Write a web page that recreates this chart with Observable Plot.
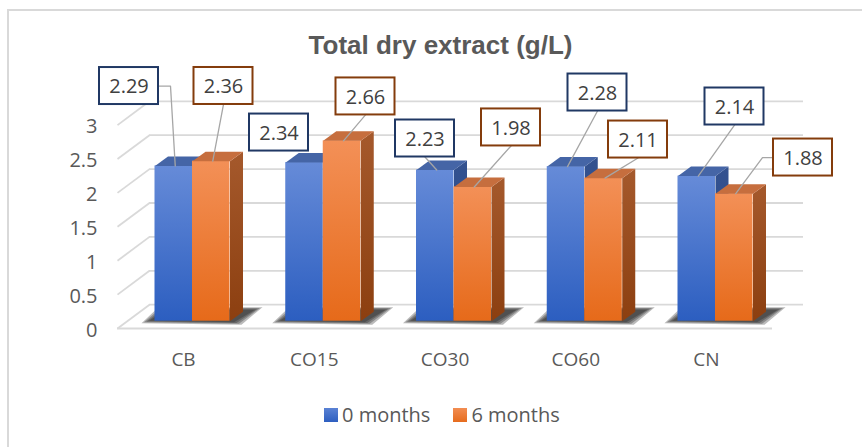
<!DOCTYPE html>
<html><head><meta charset="utf-8">
<script src="https://cdn.jsdelivr.net/npm/d3@7"></script>
<script src="https://cdn.jsdelivr.net/npm/@observablehq/plot@0.6"></script>
<style>
html,body{margin:0;padding:0;background:#fff;}
#wrap{position:relative;width:862px;height:447px;overflow:hidden;font-family:"Open Sans","Noto Sans",sans-serif;}
#chart{position:absolute;left:0;top:0;}
#frame{position:absolute;left:7px;top:9px;width:900px;height:500px;border-left:2px solid #d9d9d9;border-top:2px solid #d9d9d9;pointer-events:none;}
#title{position:absolute;left:0;width:881px;top:30px;text-align:center;font-weight:bold;font-size:26px;font-family:"Liberation Sans",Arial,sans-serif;color:#595959;line-height:30px;}
#legend{position:absolute;left:324px;top:403px;display:flex;align-items:center;font-size:20px;line-height:24px;color:#595959;}
.sw{display:inline-block;width:14px;height:14px;margin-right:4px;}
.item{display:flex;align-items:center;margin-right:23px;}
</style></head>
<body>
<div id="wrap">
  <div id="chart"></div>
  <div id="frame"></div>
  <div id="title">Total dry extract (g/L)</div>
  <div id="legend"></div>
</div>
<script>
// ---- data ----
const categories = ["CB", "CO15", "CO30", "CO60", "CN"];
const seriesNames = ["0 months", "6 months"];
const months0 = [2.29, 2.34, 2.23, 2.28, 2.14];
const months6 = [2.36, 2.66, 1.98, 2.11, 1.88];
const yTicks = [0, 0.5, 1, 1.5, 2, 2.5, 3];

// ---- label placement (pixel offsets of each label box from its bar top) ----
const labelOffset0 = [[-44.75, -79.9], [-25.5, -30], [-10.25, -31.5], [31.5, -74.1], [37.75, -69.6]];
const labelOffset6 = [[12.25, -75.2], [23.5, -44.4], [38.25, -59.5], [34.5, -38.6], [68.75, -36.2]];
const leader0 = ["right", "none", "bottom", "bottom", "bottom"];
const leader6 = ["bottom", "bottom", "bottom", "bottom", "left"];

// ---- layout ----
const X0 = 192, XSTEP = 130.75, Y0 = 320.7, YUNIT = 67.8;
const px = p => p / XSTEP, py = p => p / YUNIT;
const W = px(37.5), DX = px(13), DY = py(9.5);
const XF0 = px(117 - X0), XF1 = px(772 - X0);
const XB0 = XF0 + px(32), XB1 = px(803 - X0);
const BACKY = py(16.5), FRONTY = -py(7.3);
const BW = 29.5, BH = 18.5;
const FONT = '"Open Sans","Noto Sans",sans-serif';

const seriesValues = [months0, months6];
const offsets = [labelOffset0, labelOffset6];
const leaders = [leader0, leader6];

const bars = [];
categories.forEach((c, i) => {
  seriesValues.forEach((arr, s) => {
    const x1 = i + (s === 0 ? -W : 0);
    bars.push({cat: c, i, s, v: arr[i], x1, x2: x1 + W, id: `${s}-${i}`});
  });
});

const topPts = s => bars.filter(b => b.s === s).flatMap(b => [
  {id: b.id, x: b.x1, y: b.v}, {id: b.id, x: b.x2, y: b.v},
  {id: b.id, x: b.x2 + DX, y: b.v + DY}, {id: b.id, x: b.x1 + DX, y: b.v + DY}]);
const sidePts = s => bars.filter(b => b.s === s).flatMap(b => [
  {id: b.id, x: b.x2, y: 0}, {id: b.id, x: b.x2 + DX, y: DY},
  {id: b.id, x: b.x2 + DX, y: b.v + DY}, {id: b.id, x: b.x2, y: b.v}]);
// soft floor shadow: nested layers, each a little larger and translucent
const shadowLayers = [0, 1, 2, 3];
const shadowPts = categories.flatMap((c, i) => shadowLayers.flatMap(k => {
  const g = 2.5 * k, id = `s${i}-${k}`;
  return [
    {id, x: i - W - px(6 + g), y: py(0.5 - g / 3)}, {id, x: i + W + px(4 + g), y: -py(1 + g / 3)},
    {id, x: i + W + DX + px(12 + g), y: DY + py(2 + g / 3)}, {id, x: i - W + DX - px(2 + g), y: DY + py(2 + g / 3)}];
}));

const labels = bars.map(b => {
  const bc = (b.x1 + b.x2) / 2;
  const off = offsets[b.s][b.i];
  return {...b, bc, cx: bc + px(off[0]), cy: b.v - py(off[1]), leader: leaders[b.s][b.i]};
});
const leaderPts = labels.flatMap(l => {
  const a = {id: l.id, x: l.bc + px(1.5), y: l.v};
  if (l.leader === "bottom") return [a, {id: l.id, x: l.cx, y: l.cy - py(BH)}];
  if (l.leader === "right") return [a, {id: l.id, x: l.cx + px(BW + 12), y: l.cy}, {id: l.id, x: l.cx + px(BW), y: l.cy}];
  if (l.leader === "left") return [a, {id: l.id, x: l.cx - px(BW + 11), y: l.cy}, {id: l.id, x: l.cx - px(BW), y: l.cy}];
  return [];
});

const poly = (data, opts) => Plot.line(data, {x: "x", y: "y", z: "id", curve: "linear-closed", stroke: "none", ...opts});
const boxMark = s => Plot.rect(labels.filter(l => l.s === s), {
  x1: d => d.cx - px(BW), x2: d => d.cx + px(BW),
  y1: d => d.cy - py(BH), y2: d => d.cy + py(BH),
  fill: "white", stroke: s === 0 ? "#203864" : "#843C0C", strokeWidth: 2
});

const chart = Plot.plot({
  width: 862, height: 447,
  marginTop: 0, marginRight: 0, marginBottom: 0, marginLeft: 0,
  x: {type: "linear", domain: [0, 4], range: [X0, X0 + 4 * XSTEP], axis: null},
  y: {type: "linear", domain: [0, 3], range: [Y0, Y0 - 3 * YUNIT], axis: null},
  style: {background: "transparent"},
  marks: [
    Plot.ruleY(yTicks, {y: d => d + BACKY, x1: () => XB0, x2: () => XB1, stroke: "#d9d9d9", strokeWidth: 1.8}),
    Plot.link(yTicks, {x1: () => XF0, y1: d => d + FRONTY, x2: () => XB0, y2: d => d + BACKY, stroke: "#d9d9d9", strokeWidth: 1.8}),
    Plot.ruleY([0], {y: d => d + FRONTY, x1: () => XF0, x2: () => XF1, stroke: "#d9d9d9", strokeWidth: 1.8}),
    poly(shadowPts, {fill: "#1a1a1a", fillOpacity: 0.3}),
    // 0 months bars
    poly(sidePts(0), {fill: "url(#gBlueSide)"}),
    Plot.rect(bars.filter(b => b.s === 0), {x1: "x1", x2: "x2", y1: 0, y2: "v", fill: "url(#gBlue)"}),
    poly(topPts(0), {fill: "#4565A6"}),
    // 6 months bars
    poly(sidePts(1), {fill: "url(#gOrSide)"}),
    Plot.rect(bars.filter(b => b.s === 1), {x1: "x1", x2: "x2", y1: 0, y2: "v", fill: "url(#gOrange)"}),
    poly(topPts(1), {fill: "#C66E3E"}),
    // axes labels
    Plot.text(yTicks, {x: () => XF0, y: d => d, dx: -20, dy: 9, text: d => String(d), textAnchor: "end", fontSize: 20, fill: "#595959", fontFamily: FONT}),
    Plot.text(categories, {x: (d, i) => i, y: () => 0, dx: -9, dy: 39, text: d => d, fontSize: 19, fill: "#595959", fontFamily: FONT}),
    // data labels
    Plot.line(leaderPts, {x: "x", y: "y", z: "id", stroke: "#a6a6a6", strokeWidth: 1.3, curve: "linear"}),
    boxMark(0), boxMark(1),
    Plot.text(labels, {x: "cx", y: "cy", dy: 1, text: d => d.v.toFixed(2), fontSize: 20, fill: "#404040", fontFamily: FONT})
  ]
});

const ns = "http://www.w3.org/2000/svg";
const defs = document.createElementNS(ns, "defs");
defs.innerHTML = `
<linearGradient id="gBlue" x1="0" y1="0" x2="0" y2="1"><stop offset="0" stop-color="#668BD8"/><stop offset="1" stop-color="#2C5EC0"/></linearGradient>
<linearGradient id="gOrange" x1="0" y1="0" x2="0" y2="1"><stop offset="0" stop-color="#F39057"/><stop offset="1" stop-color="#E66A1A"/></linearGradient>
<linearGradient id="gBlueSide" x1="0" y1="0" x2="0" y2="1"><stop offset="0" stop-color="#34528F"/><stop offset="1" stop-color="#27458A"/></linearGradient>
<linearGradient id="gOrSide" x1="0" y1="0" x2="0" y2="1"><stop offset="0" stop-color="#A5592C"/><stop offset="1" stop-color="#8C3F10"/></linearGradient>`;
chart.insertBefore(defs, chart.firstChild);
document.getElementById("chart").appendChild(chart);

// legend
const legendColors = ["linear-gradient(#5A82D4,#2E5FC0)", "linear-gradient(#F28D52,#E66C1E)"];
const legend = document.getElementById("legend");
seriesNames.forEach((name, k) => {
  const item = document.createElement("span");
  item.className = "item";
  const sw = document.createElement("span");
  sw.className = "sw";
  sw.style.background = legendColors[k];
  item.appendChild(sw);
  item.appendChild(document.createTextNode(name));
  legend.appendChild(item);
});
</script>
</body></html>
